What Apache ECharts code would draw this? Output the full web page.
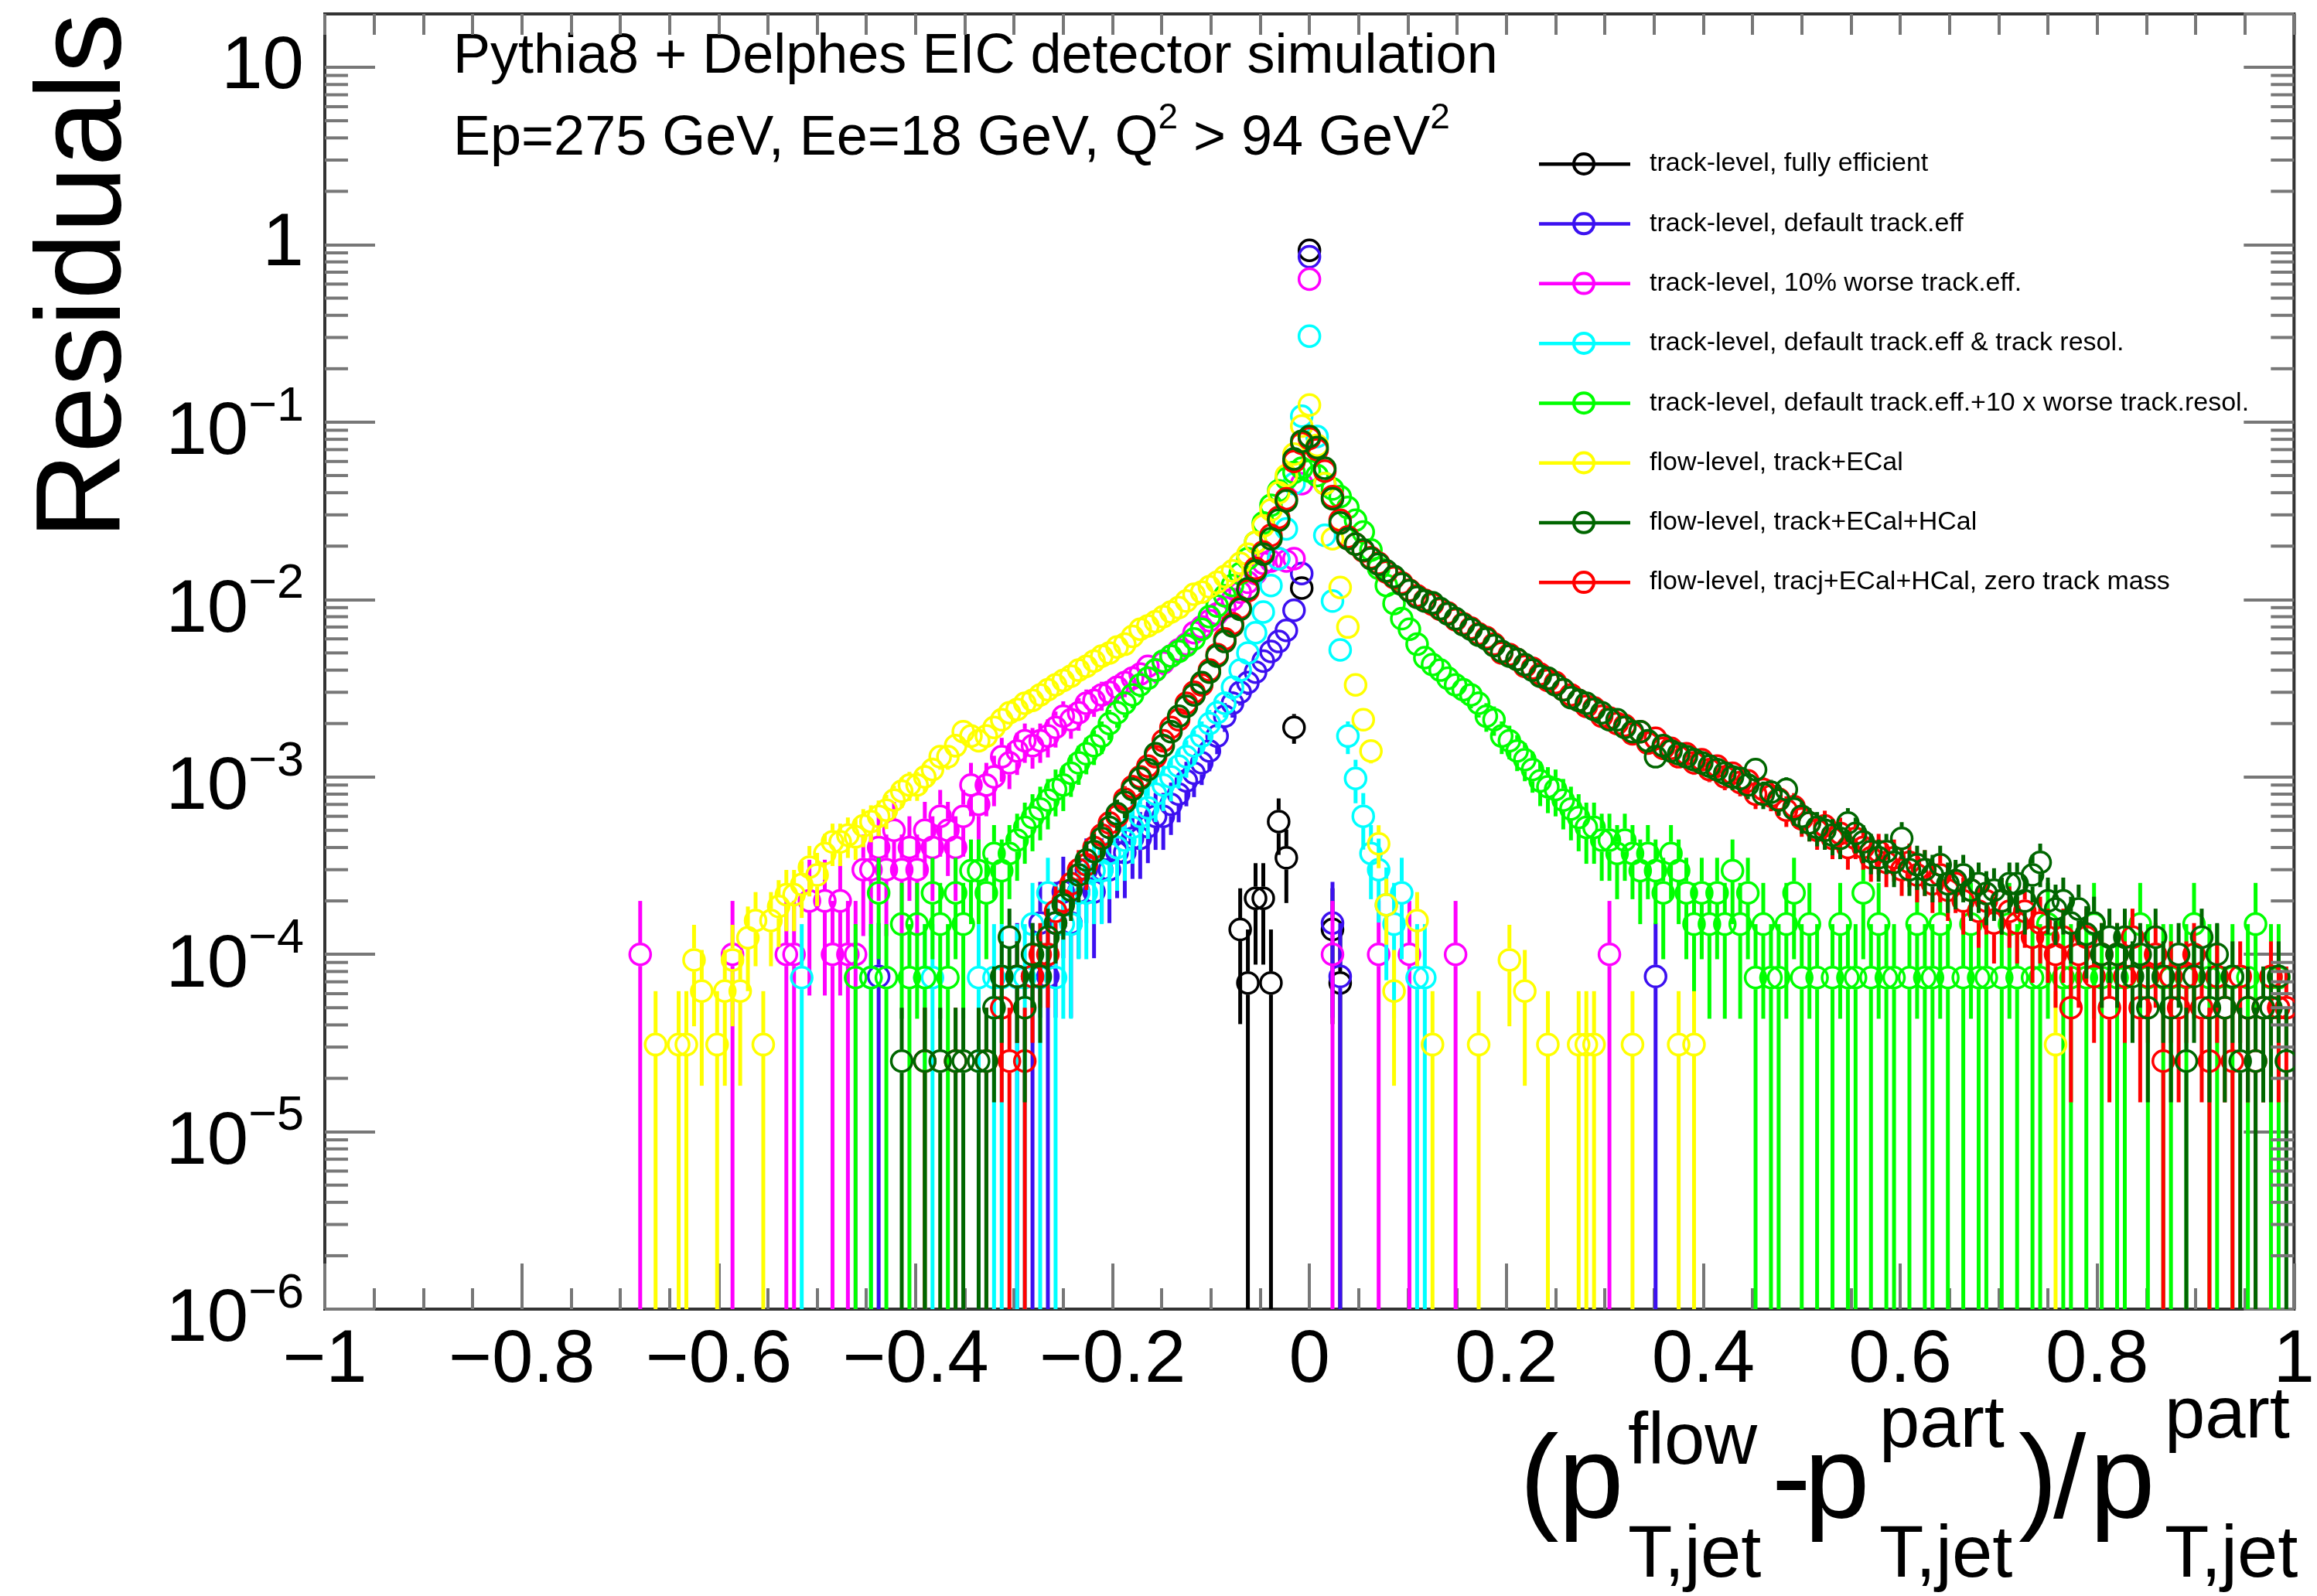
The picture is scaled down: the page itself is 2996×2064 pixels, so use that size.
<!DOCTYPE html>
<html><head><meta charset="utf-8">
<script src="https://cdn.jsdelivr.net/npm/echarts@6/dist/echarts.min.js"></script>
<style>html,body{margin:0;padding:0;background:#fff}#c{width:2996px;height:2064px}</style>
</head><body><div id="c"></div>
<script>
// ---------------- data (histogram bins of width 1/128 on [-1,1]; value 0 = empty bin) ----------------
const BIN = 1 / 128;
const NAMES = ['track-level, fully efficient', 'track-level, default track.eff', 'track-level, 10% worse track.eff.',
  'track-level, default track.eff & track resol.', 'track-level, default track.eff.+10 x worse track.resol.',
  'flow-level, track+ECal', 'flow-level, track+ECal+HCal', 'flow-level, tracj+ECal+HCal, zero track mass'];
const COLORS = ['#000000', '#3c10f0', '#ff00ff', '#00ffff', '#00ff00', '#ffff00', '#006600', '#ff0000'];
// value of one entry per histogram (sets the statistical error bars)
const UNITS = [6.9e-5, 7.5e-5, 1e-4, 7.4e-5, 7.4e-5, 3.1e-5, 2.5e-5, 2.5e-5];

const blackStart = -9;
const blackVals = [1.38e-4, 6.9e-5, 2.07e-4, 2.07e-4, 6.9e-5, 5.6e-4, 3.5e-4, 1.9e-3, 1.16e-2, 0.93, 0, 0, 1.38e-4, 6.9e-5];

const blueStart = -56;
const blueVals = [7.5e-5,
  0,0,0,0,0,0,0,0,0,0, 0,0,0,0,0,0,0,
  7.5e-5,0,7.5e-5,1.5e-4,7.5e-5,1.5e-4,2.25e-4,1.5e-4,2.25e-4,3.0e-4,
  2.25e-4,3.0e-4,3.0e-4,3.75e-4,3.75e-4,4.5e-4,4.5e-4,5.25e-4,6.0e-4,6.0e-4,
  7.0e-4,8.0e-4,9.5e-4,1.05e-3,1.2e-3,1.4e-3,1.7e-3,2.2e-3,2.6e-3,3.0e-3,
  3.4e-3,3.9e-3,4.5e-3,5.1e-3,5.8e-3,6.7e-3,8.7e-3,1.4e-2,0.855,0,
  0,1.5e-4,7.5e-5,
  0,0,0,0,0,0,0,0,0,0, 0,0,0,0,0,0,0,0,0,0, 0,0,0,0,0,0,0,0,0,0, 0,0,0,0,0,0,0,0,0,0,
  7.5e-5];

const magentaStart = -87;
const magentaVals = [1e-4,
  0,0,0,0,0,0,0,0,0,0,0,
  1e-4,
  0,0,0,0,0,0,
  1e-4,1e-4,0,2e-4,0,2e-4,1e-4,2e-4,1e-4,1e-4,
  3e-4,3e-4,4e-4,3e-4,5e-4,3e-4,4e-4,3e-4,5e-4,4e-4,
  6e-4,5e-4,4e-4,6e-4,9e-4,7e-4,9e-4,1.0e-3,1.3e-3,1.2e-3,
  1.4e-3,1.6e-3,1.5e-3,1.6e-3,1.7e-3,1.9e-3,2.2e-3,2.1e-3,2.3e-3,2.6e-3,
  2.7e-3,2.9e-3,3.0e-3,3.2e-3,3.4e-3,3.6e-3,3.8e-3,4.2e-3,4.0e-3,4.4e-3,
  4.8e-3,5.2e-3,5.6e-3,6.5e-3,7.0e-3,7.6e-3,8.3e-3,9.0e-3,1.0e-2,1.1e-2,
  1.25e-2,1.4e-2,1.6e-2,1.65e-2,1.7e-2,1.65e-2,1.7e-2,4.5e-2,0.64,0,
  0,1e-4,
  0,0,0,0,0,
  1e-4,
  0,0,0,
  1e-4,
  0,0,0,0,0,
  1e-4,
  0,0,0,0,0,0,0,0,0,0,0,0,0,0,0,0,0,0,0,
  1e-4];

const cyanStart = -66;
const cyanVals = [7.4e-5,
  0,0,0,0,0,0,0,0,
  7.4e-5,
  0,0,0,0,0,0,
  7.4e-5,7.4e-5,
  0,0,0,0,0,
  7.4e-5,0,7.4e-5,7.4e-5,0,7.4e-5,7.4e-5,1.48e-4,7.4e-5,2.22e-4,
  7.4e-5,1.48e-4,1.48e-4,2.22e-4,2.22e-4,2.96e-4,2.96e-4,3.7e-4,4.0e-4,4.4e-4,
  5.2e-4,6.0e-4,6.7e-4,8e-4,9e-4,1.0e-3,1.15e-3,1.3e-3,1.5e-3,1.7e-3,
  2.0e-3,2.3e-3,2.6e-3,3.2e-3,4.0e-3,5.0e-3,6.5e-3,8.5e-3,1.2e-2,1.7e-2,
  2.5e-2,4.5e-2,0.108,0.305,0.083,0.023,9.8e-3,5.2e-3,1.7e-3,9.8e-4,
  6.0e-4,3.7e-4,3.0e-4,1.9e-4,1.48e-4,2.22e-4,0,7.4e-5,7.4e-5];

const greenStart = -59;
const greenVals = [
  7.4e-5,0,7.4e-5,2.22e-4,7.4e-5,0,1.48e-4,7.4e-5,1.48e-4,7.4e-5,
  2.22e-4,1.48e-4,7.4e-5,2.22e-4,1.48e-4,2.96e-4,2.96e-4,2.22e-4,3.7e-4,2.96e-4,
  3.7e-4,4.4e-4,5.2e-4,5.9e-4,6.6e-4,7.4e-4,8.5e-4,9.0e-4,1.05e-3,1.2e-3,
  1.35e-3,1.5e-3,1.7e-3,2.0e-3,2.3e-3,2.6e-3,2.9e-3,3.3e-3,3.6e-3,4.0e-3,
  4.5e-3,4.8e-3,5.1e-3,5.5e-3,6.0e-3,6.8e-3,8.0e-3,9.2e-3,1.05e-2,1.2e-2,
  1.4e-2,1.7e-2,2.1e-2,2.7e-2,3.4e-2,4.1e-2,4.8e-2,5.2e-2,5.5e-2,5.3e-2,
  5.0e-2,4.5e-2,4.2e-2,3.8e-2,3.3e-2,2.8e-2,2.4e-2,1.9e-2,1.5e-2,1.2e-2,
  9.5e-3,7.8e-3,6.8e-3,5.6e-3,4.7e-3,4.3e-3,4.0e-3,3.6e-3,3.3e-3,3.1e-3,
  2.9e-3,2.6e-3,2.2e-3,2.1e-3,1.7e-3,1.6e-3,1.4e-3,1.25e-3,1.1e-3,9.5e-4,
  8.8e-4,8.5e-4,7.4e-4,6.6e-4,5.9e-4,5.2e-4,5.2e-4,4.4e-4,4.4e-4,3.7e-4,
  4.4e-4,3.7e-4,2.96e-4,3.7e-4,2.96e-4,2.22e-4,3.7e-4,2.96e-4,2.22e-4,1.48e-4,
  2.22e-4,1.48e-4,2.22e-4,1.48e-4,2.96e-4,1.48e-4,2.22e-4,7.4e-5,1.48e-4,7.4e-5,
  7.4e-5,1.48e-4,2.22e-4,7.4e-5,1.48e-4,7.4e-5,0,7.4e-5,1.48e-4,7.4e-5,
  7.4e-5,2.22e-4,7.4e-5,1.48e-4,7.4e-5,7.4e-5,0,7.4e-5,1.48e-4,7.4e-5,
  7.4e-5,1.48e-4,7.4e-5,0,7.4e-5,1.48e-4,7.4e-5,7.4e-5,0,7.4e-5,
  1.48e-4,7.4e-5,0,7.4e-5,7.4e-5,1.48e-4,0,7.4e-5,7.4e-5,0,
  7.4e-5,1.48e-4,7.4e-5,0,7.4e-5,7.4e-5,0,1.48e-4,7.4e-5,0,
  7.4e-5,7.4e-5,0,7.4e-5,1.48e-4,0,7.4e-5,7.4e-5,0,7.4e-5,
  0,7.4e-5,1.48e-4,0,7.4e-5,7.4e-5,0];

const yellowStart = -85;
const yellowVals = [
  3.1e-5,0,0,3.1e-5,3.1e-5,9.3e-5,6.2e-5,0,3.1e-5,6.2e-5,
  9.3e-5,6.2e-5,1.24e-4,1.55e-4,3.1e-5,1.55e-4,1.86e-4,2.17e-4,2.17e-4,2.48e-4,
  3.1e-4,2.8e-4,3.7e-4,4.3e-4,4.3e-4,4.7e-4,4.6e-4,5.3e-4,5.6e-4,6.0e-4,
  6.5e-4,7.4e-4,8.3e-4,9.0e-4,9.0e-4,1.0e-3,1.1e-3,1.3e-3,1.3e-3,1.5e-3,
  1.8e-3,1.7e-3,1.6e-3,1.7e-3,1.9e-3,2.1e-3,2.3e-3,2.4e-3,2.6e-3,2.7e-3,
  2.9e-3,3.1e-3,3.3e-3,3.5e-3,3.7e-3,4.0e-3,4.2e-3,4.5e-3,4.8e-3,5.0e-3,
  5.4e-3,5.6e-3,6.2e-3,6.8e-3,7.1e-3,7.5e-3,8.0e-3,8.5e-3,9.0e-3,9.8e-3,
  1.07e-2,1.1e-2,1.18e-2,1.25e-2,1.35e-2,1.45e-2,1.6e-2,1.8e-2,2.1e-2,2.6e-2,
  3.2e-2,4.0e-2,5.0e-2,6.6e-2,9.5e-2,0.125,7.4e-2,4.5e-2,2.2e-2,1.17e-2,
  7.0e-3,3.3e-3,2.1e-3,1.4e-3,4.2e-4,1.9e-4,6.2e-5,0,0,1.55e-4,
  0,3.1e-5,0,0,0,0,0,3.1e-5,0,0,
  0,9.3e-5,0,6.2e-5,0,0,3.1e-5,0,0,0,
  3.1e-5,3.1e-5,3.1e-5,0,0,0,0,3.1e-5,0,0,
  0,0,0,3.1e-5,0,3.1e-5,
  0,0,0,0,0,0,0,0,0,0, 0,0,0,0,0,0,0,0,0,0, 0,0,0,0,0,0,0,0,0,0, 0,0,0,0,0,0,0,0,0,0, 0,0,0,0,0,0,
  3.1e-5];

const dgreenStart = -53;
const dgreenVals = [
  2.5e-5,0,0,2.5e-5,0,2.5e-5,0,2.5e-5,2.5e-5,0,
  2.5e-5,2.5e-5,5e-5,7.5e-5,1.25e-4,7.5e-5,5e-5,1.0e-4,7.5e-5,1.25e-4,
  1.5e-4,1.9e-4,2.3e-4,2.8e-4,3.4e-4,3.8e-4,4.5e-4,5.2e-4,6.2e-4,7.2e-4,
  8.5e-4,9.8e-4,1.1e-3,1.35e-3,1.5e-3,1.8e-3,2.2e-3,2.5e-3,2.9e-3,3.4e-3,
  3.9e-3,4.8e-3,5.8e-3,7.1e-3,8.8e-3,1.15e-2,1.45e-2,1.8e-2,2.2e-2,2.8e-2,
  3.6e-2,6.2e-2,7.8e-2,8.3e-2,
  0.072,0.055,0.037,0.027,0.022,0.0205,0.019,0.017,0.0158,0.0145,
  0.0135,0.0122,0.0112,0.0103,0.0098,0.0096,0.0089,0.0083,0.0078,0.0072,
  0.0068,0.0063,0.0060,0.0055,0.0051,0.0048,0.0046,0.0043,0.0040,0.0037,
  0.0036,0.0033,0.0031,0.0028,0.0027,0.0026,0.0024,0.0023,0.0021,0.0021,
  0.0019,0.0018,0.0018,0.0016,0.0013,0.0015,0.0014,0.00135,0.0013,0.00125,
  0.0012,0.00115,0.0011,0.00105,0.001,0.00098,0.0009,0.0011,0.0008,0.00082,
  0.00074,0.00085,0.00066,0.0006,0.00055,0.00052,0.0005,0.00047,0.00045,0.00055,
  0.00048,0.00043,0.00038,0.00035,0.00038,0.00033,0.00045,0.0003,0.00032,0.0003,
  0.00028,0.00032,0.00025,0.00026,0.00028,0.00023,0.00025,0.00022,0.00023,0.0002,
  0.00025,0.00025,0.0002,0.00028,0.00033,0.0002,0.00018,0.0002,0.00015,0.00018,
  0.00013,0.00015,0.0001,0.000125,0.0001,0.000125,7.5e-5,0.0001,5e-5,0.000125,
  7.5e-5,5e-5,0.0001,2.5e-5,7.5e-5,0.000125,5e-5,0.0001,5e-5,7.5e-5,
  2.5e-5,5e-5,2.5e-5,5e-5,5e-5,7.5e-5,2.5e-5];

const redStart = -50;
const redVals = [
  2.5e-5,0,0,0,2.5e-5,0,0,0,2.5e-5,0,
  5e-5,2.5e-5,7.5e-5,2.5e-5,7.5e-5,1.0e-4,1.0e-4,1.75e-4,2.0e-4,2.5e-4,
  3.0e-4,3.2e-4,4.0e-4,4.7e-4,5.5e-4,6.0e-4,7.5e-4,8.8e-4,1.0e-3,1.15e-3,
  1.3e-3,1.6e-3,1.9e-3,2.1e-3,2.6e-3,3.0e-3,3.3e-3,4.0e-3,4.9e-3,6.0e-3,
  7.3e-3,9.0e-3,1.12e-2,1.5e-2,1.85e-2,2.3e-2,2.9e-2,3.7e-2,6.0e-2,7.6e-2,
  8.1e-2,
  7.0e-2,5.3e-2,3.8e-2,2.8e-2,2.25e-2,2.05e-2,1.88e-2,1.72e-2,1.6e-2,1.43e-2,
  1.33e-2,1.24e-2,1.13e-2,1.05e-2,9.9e-3,9.4e-3,8.8e-3,8.4e-3,7.7e-3,7.3e-3,
  6.9e-3,6.4e-3,6.1e-3,5.6e-3,5.0e-3,4.9e-3,4.6e-3,4.2e-3,4.1e-3,3.8e-3,
  3.5e-3,3.4e-3,3.1e-3,2.9e-3,2.7e-3,2.5e-3,2.45e-3,2.2e-3,2.15e-3,2.0e-3,
  1.95e-3,1.75e-3,1.8e-3,1.55e-3,1.65e-3,1.45e-3,1.45e-3,1.3e-3,1.35e-3,1.2e-3,
  1.25e-3,1.1e-3,1.15e-3,1.0e-3,1.05e-3,9.3e-4,9.5e-4,8.0e-4,8.5e-4,7.8e-4,
  7.5e-4,6.5e-4,6.8e-4,5.8e-4,5.5e-4,5.0e-4,5.3e-4,4.5e-4,4.8e-4,4.0e-4,
  4.5e-4,4.0e-4,3.5e-4,3.8e-4,3.3e-4,3.5e-4,3.0e-4,3.3e-4,2.8e-4,3.0e-4,
  2.5e-4,2.8e-4,2.3e-4,2.5e-4,2.0e-4,2.3e-4,1.75e-4,2.0e-4,1.5e-4,2.0e-4,
  1.75e-4,1.5e-4,1.75e-4,1.25e-4,1.5e-4,1.25e-4,1.0e-4,1.25e-4,5e-5,1.0e-4,
  1.25e-4,7.5e-5,1.0e-4,5e-5,1.0e-4,7.5e-5,1.25e-4,5e-5,7.5e-5,1.0e-4,
  2.5e-5,7.5e-5,5e-5,7.5e-5,1.0e-4,5e-5,2.5e-5,7.5e-5,5e-5,2.5e-5,
  7.5e-5,5e-5,2.5e-5,5e-5,7.5e-5,5e-5,5e-5];

const HISTS = [
  [blackStart, blackVals], [blueStart, blueVals], [magentaStart, magentaVals], [cyanStart, cyanVals],
  [greenStart, greenVals], [yellowStart, yellowVals], [dgreenStart, dgreenVals], [redStart, redVals]];
// drawing order (dark green drawn last, on top)
const DRAW_ORDER = [0, 1, 2, 3, 4, 5, 7, 6];

// ---------------- styling ----------------
const FONT = '"Liberation Sans", Arial, Helvetica, sans-serif';
const TICK = '#777777';

function histSeries(idx) {
  const [start, vals] = HISTS[idx];
  const color = COLORS[idx], unit = UNITS[idx];
  const data = [];
  for (let i = 0; i < vals.length; i++) if (vals[i] > 0) data.push([(start + i) * BIN, vals[i], unit]);
  return {
    name: NAMES[idx], type: 'custom', coordinateSystem: 'cartesian2d', clip: true,
    itemStyle: { color }, data, encode: { x: 0, y: 1 },
    renderItem(params, api) {
      const x = api.value(0), y = api.value(1), u = api.value(2);
      const cs = params.coordSys;
      const bottom = cs.y + cs.height;
      const p = api.coord([x, y]);
      const err = Math.sqrt(y * u);
      const yt = api.coord([x, y + err])[1];
      const lo = y - err;
      const yb = lo > y * 1e-6 ? Math.min(api.coord([x, lo])[1], bottom) : bottom;
      const R = 15, kids = [];
      if (p[1] - yt > R) kids.push({ type: 'line', shape: { x1: p[0], y1: yt, x2: p[0], y2: p[1] - R }, style: { stroke: color, lineWidth: 5 } });
      if (yb - p[1] > R) kids.push({ type: 'line', shape: { x1: p[0], y1: p[1] + R, x2: p[0], y2: yb }, style: { stroke: color, lineWidth: 5 } });
      kids.push({ type: 'circle', shape: { cx: p[0], cy: p[1], r: 13.5 }, style: { fill: 'none', stroke: color, lineWidth: 3.5 } });
      return { type: 'group', children: kids };
    }
  };
}

// minor ticks of the log axis (2..9 x 10^n)
const yMinor = [];
for (let d = -6; d <= 1; d++) for (let m = 2; m <= 9; m++) { const v = m * Math.pow(10, d); if (v < 20) yMinor.push([0, v]); }

const minorSeries = {
  type: 'custom', coordinateSystem: 'cartesian2d', z: 10, silent: true, data: yMinor, encode: { x: 0, y: 1 },
  renderItem(params, api) {
    const cs = params.coordSys; const yy = api.coord([0, api.value(1)])[1];
    return { type: 'group', children: [
      { type: 'line', shape: { x1: cs.x, y1: yy, x2: cs.x + 30, y2: yy }, style: { stroke: TICK, lineWidth: 4 } },
      { type: 'line', shape: { x1: cs.x + cs.width - 30, y1: yy, x2: cs.x + cs.width, y2: yy }, style: { stroke: TICK, lineWidth: 4 } }] };
  }
};

function xFmt(v) {
  const r = Math.round(v * 10) / 10;
  if (Math.abs(r) < 1e-9) return '0';
  return (r < 0 ? '\u2212' : '') + String(Math.abs(r));
}
function yFmt(v) {
  const e = Math.round(Math.log10(v));
  if (Math.abs(v / Math.pow(10, e) - 1) > 1e-6) return '';
  if (e === 1) return '{p|10}';
  if (e === 0) return '{p|1}';
  return '{a|10}{b|\u2212' + (-e) + '}';
}

const ICON = 'path://M0,13.5L118,13.5L118,18L0,18Z M43,15.5A15,15 0 1 1 73,15.5A15,15 0 1 1 43,15.5Z M47,15.5A11,11 0 1 0 69,15.5A11,11 0 1 0 47,15.5Z';

const xAxisBase = {
  type: 'value', min: -1, max: 1, interval: 0.2,
  axisLine: { show: false, onZero: false }, splitLine: { show: false }, minorSplitLine: { show: false }
};
const yAxisBase = {
  type: 'log', logBase: 10, min: 1e-6, max: 20,
  axisLine: { show: false, onZero: false }, splitLine: { show: false },
  axisTick: { show: true, inside: true, length: 65, lineStyle: { color: TICK, width: 4 } }
};

// x-axis title pieces: [text, left x, baseline y, font size]
const XTITLE = [
  ['(', 1965, 1967, 152], ['p', 2015, 1967, 152], ['flow', 2105, 1896, 94], ['T,jet', 2105, 2042, 94],
  ['-', 2291, 1967, 152], ['p', 2333, 1967, 152], ['part', 2430, 1874, 94], ['T,jet', 2430, 2042, 94],
  [')', 2610, 1967, 152], ['/', 2655, 1967, 152], ['p', 2702, 1967, 152], ['part', 2799, 1862, 94], ['T,jet', 2799, 2042, 94]];

const graphics = [
  { type: 'text', x: 586, y: 74, style: { text: 'Pythia8 + Delphes EIC detector simulation', fontSize: 72, fontFamily: FONT, fill: '#000', align: 'left', verticalAlign: 'middle' } },
  { type: 'text', x: 586, y: 180, style: { text: 'Ep=275 GeV, Ee=18 GeV, Q{s|2} > 94 GeV{s|2}', fontSize: 72, fontFamily: FONT, fill: '#000', align: 'left', verticalAlign: 'middle', lineHeight: 100,
      rich: { s: { fontSize: 46, fontFamily: FONT, fill: '#000', verticalAlign: 'top', lineHeight: 40 } } } },
  { type: 'text', x: 112, y: 17, rotation: Math.PI / 2, style: { text: 'Residuals', fontSize: 155, fontFamily: FONT, fill: '#000', align: 'right', verticalAlign: 'middle' } }
];
XTITLE.forEach(([t, x, b, fs]) => graphics.push({ type: 'text', x, y: b - 0.31 * fs, style: { text: t, fontSize: fs, fontFamily: FONT, fill: '#000', align: 'left', verticalAlign: 'middle' } }));

const series = DRAW_ORDER.map(histSeries);
series.push(minorSeries);

const chart = echarts.init(document.getElementById('c'), null, { renderer: 'canvas' });
chart.setOption({
  animation: false,
  backgroundColor: '#ffffff',
  textStyle: { fontFamily: FONT },
  grid: { left: 420, right: 16, top: 18, bottom: 371, show: true, borderColor: '#333333', borderWidth: 4, backgroundColor: 'transparent', containLabel: false },
  xAxis: [
    Object.assign({}, xAxisBase, { position: 'bottom',
      axisTick: { show: true, inside: true, length: 59, lineStyle: { color: TICK, width: 4 } },
      minorTick: { show: true, splitNumber: 4, length: 27, lineStyle: { color: TICK, width: 4 } },
      axisLabel: { show: true, fontSize: 96, fontFamily: FONT, color: '#000', margin: 20, formatter: xFmt } }),
    Object.assign({}, xAxisBase, { position: 'top',
      axisTick: { show: true, inside: true, length: 27, lineStyle: { color: TICK, width: 4 } },
      minorTick: { show: true, splitNumber: 4, length: 27, lineStyle: { color: TICK, width: 4 } },
      axisLabel: { show: false } })
  ],
  yAxis: [
    Object.assign({}, yAxisBase, { position: 'left',
      axisLabel: { show: true, margin: 27, color: '#000', fontFamily: FONT, fontSize: 96, showMaxLabel: false, formatter: yFmt,
        rich: {
          p: { fontSize: 96, fontFamily: FONT, color: '#000' },
          a: { fontSize: 96, lineHeight: 96, fontFamily: FONT, color: '#000', verticalAlign: 'bottom' },
          b: { fontSize: 63, lineHeight: 126, fontFamily: FONT, color: '#000', verticalAlign: 'top', padding: [12, 0, 0, 0] }
        } } }),
    Object.assign({}, yAxisBase, { position: 'right', axisLabel: { show: false } })
  ],
  legend: {
    data: NAMES, orient: 'vertical', left: 1985, top: 190, itemWidth: 118, itemHeight: 31, itemGap: 43.3,
    icon: ICON, selectedMode: false, itemStyle: { borderWidth: 0 },
    textStyle: { fontSize: 34, lineHeight: 34, fontFamily: FONT, color: '#000', padding: [0, 0, 0, 20] }
  },
  graphic: graphics,
  series
});
</script></body></html>
